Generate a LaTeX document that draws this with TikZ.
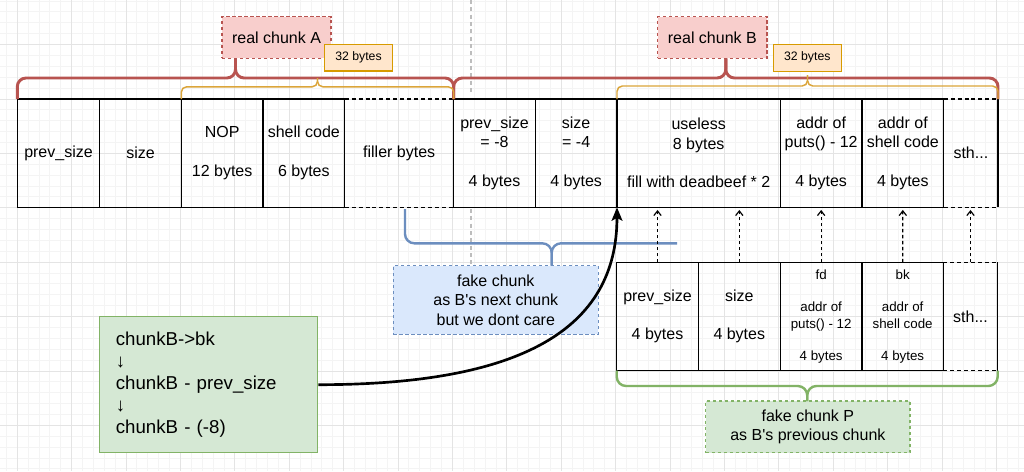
\documentclass[tikz,border=0pt]{standalone}
\usepackage{fontspec}
\setmainfont{Liberation Sans}
\usetikzlibrary{arrows.meta}
\definecolor{redS}{HTML}{B85450}
\definecolor{redF}{HTML}{F8CECC}
\definecolor{orS}{HTML}{D79B00}
\definecolor{orB}{HTML}{DBA53A}
\definecolor{orF}{HTML}{FFE6CC}
\definecolor{blS}{HTML}{6C8EBF}
\definecolor{blF}{HTML}{DAE8FC}
\definecolor{grS}{HTML}{82B366}
\definecolor{grF}{HTML}{D5E8D4}
\definecolor{gridMinor}{HTML}{F4F4F4}
\definecolor{gridMajor}{HTML}{E4E4E4}
\definecolor{guide}{HTML}{BDBDBD}
% #1 style, #2 name, #3 x1, #4 x2, #5 y1, #6 y2 (pixels), #7 text
\newcommand\pxbox[7]{\node[#1, minimum width={(#4-#3)*0.75pt}, minimum height={(#6-#5)*0.75pt}] (#2) at ({(#3+#4)/2},{(#5+#6)/2}) {#7};}
\tikzset{
  cell/.style={draw=black, line width=1.1pt, inner sep=0pt, outer sep=0pt, align=center,
    font=\fontsize{12}{14.5}\selectfont},
  opencell/.style={cell, draw=none},
  smallcell/.style={cell, font=\fontsize{10}{12.2}\selectfont},
  cellline/.style={draw=black, line width=1.1pt},
  dashline/.style={cellline, dash pattern=on 3pt off 2.2pt},
  redlabel/.style={draw=redS, fill=redF, line width=0.9pt, dash pattern=on 2.5pt off 2pt,
    inner sep=0pt, font=\fontsize{12}{14.5}\selectfont},
  orlabel/.style={draw=orS, fill=orF, line width=0.9pt, inner sep=0pt,
    font=\fontsize{9.2}{11}\selectfont},
  bluelabel/.style={draw=blS, fill=blF, line width=0.9pt, dash pattern=on 2.5pt off 2pt,
    inner sep=0pt, align=center, font=\fontsize{12}{14.6}\selectfont},
  greenlabel/.style={draw=grS, fill=grF, line width=0.9pt, dash pattern=on 2.5pt off 2pt,
    inner sep=0pt, align=center, font=\fontsize{12}{14.3}\selectfont},
  notebox/.style={draw=grS, fill=grF, line width=0.9pt, inner sep=0pt, align=left,
    text width=139pt, font=\fontsize{14}{16.4}\selectfont},
  redbrace/.style={draw=redS, line width=2.2pt, rounded corners=6.5pt},
  orbrace/.style={draw=orB, line width=1.1pt, rounded corners=4pt},
  bluebrace/.style={draw=blS, line width=1.8pt, rounded corners=7pt},
  greenbrace/.style={draw=grS, line width=1.8pt, rounded corners=7pt},
  upptr/.style={draw=black, line width=0.9pt, dash pattern=on 2.5pt off 2pt,
    -{Straight Barb[length=3.5pt,width=5.5pt]}, shorten >=2pt},
  mainptr/.style={draw=black, line width=2pt, -{Stealth[length=10pt,width=8pt,inset=2pt]}},
  guideline/.style={draw=guide, line width=0.8pt, dash pattern=on 3pt off 2.5pt},
}
\begin{document}
\begin{tikzpicture}[x=0.75pt, y=-0.75pt]
\useasboundingbox (0,0) rectangle (1024,471);
\fill[white] (0,0) rectangle (1024,471);
% grid
\foreach \i in {-1,...,92} {\draw[gridMinor, line width=0.75pt] ({17.3+\i*10.88},0) -- ({17.3+\i*10.88},471);}
\foreach \i in {-9,...,34} {\draw[gridMinor, line width=0.75pt] (0,{99+\i*10.88}) -- (1024,{99+\i*10.88});}
\foreach \i in {0,...,18} {\draw[gridMajor, line width=0.75pt] ({17.3+\i*54.4},0) -- ({17.3+\i*54.4},471);}
\foreach \i in {-1,...,6} {\draw[gridMajor, line width=0.75pt] (0,{99+\i*54.4}) -- (1024,{99+\i*54.4});}
% guide lines
\draw[guideline] (471,0) -- (471,95);
\draw[guideline] (471,209) -- (471,265);

% top row: real chunk A
\pxbox{cell}{a1}{17.3}{99.7}{99}{207.3}{prev\_size}
\pxbox{cell}{a2}{99.7}{181.3}{99}{207.3}{size}
\pxbox{cell}{a3}{181.3}{263}{99}{207.3}{NOP\\[14.5pt]12 bytes}
\pxbox{cell}{a4}{263}{344.7}{99}{207.3}{shell code\\[14.5pt]6 bytes}
\pxbox{opencell}{a5}{344.7}{453.7}{99}{207.3}{filler bytes}
\draw[dashline] (a5.north west) -- (a5.north east);
\draw[dashline] (a5.south west) -- (a5.south east);
% top row: real chunk B
\pxbox{cell}{b1}{453.7}{535.3}{99}{207.3}{prev\_size\\= -8\\[14.5pt]4 bytes}
\pxbox{cell}{b2}{535.3}{617}{99}{207.3}{size\\= -4\\[14.5pt]4 bytes}
\pxbox{cell}{b3}{617}{780.3}{99}{207.3}{useless\\8 bytes\\[14.5pt]fill with deadbeef * 2}
\pxbox{cell}{b4}{780.3}{862}{99}{207.3}{addr of\\puts() - 12\\[14.5pt]4 bytes}
\pxbox{cell}{b5}{862}{943.7}{99}{207.3}{addr of\\shell code\\[14.5pt]4 bytes}
\pxbox{opencell}{b6}{943.7}{998}{99}{207.3}{sth...}
\draw[dashline] (b6.north west) -- (b6.north east);
\draw[dashline] (b6.south west) -- (b6.south east);
\draw[cellline] (b6.north east) -- (b6.south east);

% bottom row: fake chunk P
\pxbox{cell}{p1}{616.7}{698.3}{262.3}{370.7}{prev\_size\\[14.5pt]4 bytes}
\pxbox{cell}{p2}{698.3}{780.3}{262.3}{370.7}{size\\[14.5pt]4 bytes}
\pxbox{smallcell}{p3}{780.3}{862}{262.3}{370.7}{fd\\[12.2pt]addr of\\puts() - 12\\[12.2pt]4 bytes}
\pxbox{smallcell}{p4}{862}{943.3}{262.3}{370.7}{bk\\[12.2pt]addr of\\shell code\\[12.2pt]4 bytes}
\pxbox{opencell}{p5}{943.3}{997.7}{262.3}{370.7}{sth...}
\draw[dashline] (p5.north west) -- (p5.north east);
\draw[dashline] (p5.south west) -- (p5.south east);
\draw[cellline] (p5.north east) -- (p5.south east);

% labels
\pxbox{redlabel}{ra}{222}{331}{16.7}{58.3}{real chunk A}
\pxbox{redlabel}{rb}{657.7}{767}{16.7}{58.3}{real chunk B}
\pxbox{orlabel}{sa}{324.3}{392.7}{44.3}{71}{32 bytes}
\pxbox{orlabel}{sb}{773.3}{841.3}{44.3}{71.3}{32 bytes}
\pxbox{bluelabel}{fake}{393.3}{598.3}{265.7}{334.3}{fake chunk\\as B\textquotesingle s next chunk\\but we dont care}
\pxbox{greenlabel}{fakep}{705.7}{910}{401}{452.7}{fake chunk P\\as B\textquotesingle s previous chunk}
\pxbox{notebox}{note}{99.3}{317.7}{316.7}{452.7}{chunkB->bk\\↓\\chunkB - prev\_size\\↓\\chunkB - (-8)}

% red braces
\draw[redbrace] (a1.north west) -- (17.3,78) -- (235.5,78) -- (235.5,58.3);
\draw[redbrace] (a5.north east) -- (453.7,78) -- (235.5,78) -- (235.5,58.3);
\draw[redbrace] (b1.north west) -- (453.7,78) -- (725.8,78) -- (725.8,58.3);
\draw[redbrace] (b6.north east) -- (998,78) -- (725.8,78) -- (725.8,58.3);
% orange braces
\draw[orbrace] (a3.north west) -- (181.3,86.8) -- (317.5,86.8) -- (317.5,78);
\draw[orbrace] (a5.north east) -- (453.7,86.8) -- (317.5,86.8) -- (317.5,78);
\draw[orbrace] (b3.north west) -- (617,86) -- (807.5,86) -- (807.5,75);
\draw[orbrace] (b6.north east) -- (998,86) -- (807.5,86) -- (807.5,75);
% blue brace
\draw[bluebrace] (405,209) -- (405,243.3) -- (551.7,243.3) -- (551.7,265.7);
\draw[bluebrace] (677,243.3) -- (551.7,243.3) -- (551.7,265.7);
% green brace
\draw[greenbrace] (p1.south west) -- (616.7,386) -- (807.2,386) -- (807.2,401);
\draw[greenbrace] (p5.south east) -- (997.7,386) -- (807.2,386) -- (807.2,401);

% dashed pointers from fake chunk P up to chunk B
\draw[upptr] (p1.north) -- (p1.north |- b3.south);
\draw[upptr] (p2.north) -- (p2.north |- b3.south);
\draw[upptr] (p3.north) -- (b4.south);
\draw[upptr] (p4.north) -- (b5.south);
\draw[upptr] (p5.north) -- (p5.north |- b6.south);

% main pointer
\draw[mainptr] (note.east) .. controls (520,384.7) and (617,330) .. (b3.south west);
\end{tikzpicture}
\end{document}
